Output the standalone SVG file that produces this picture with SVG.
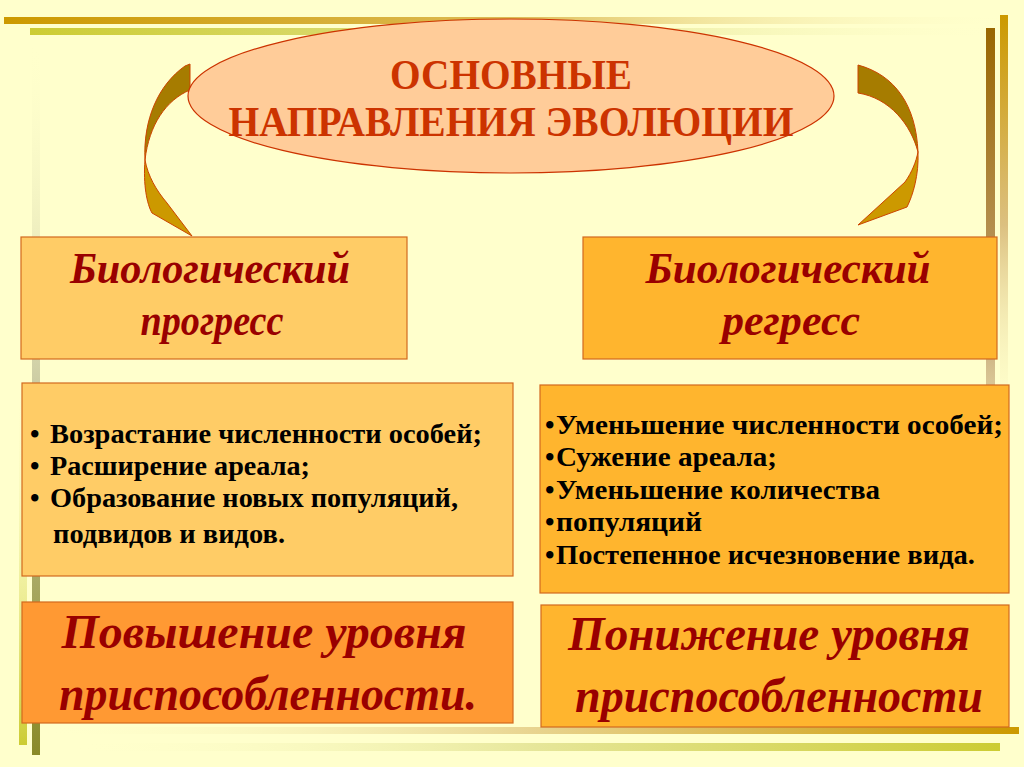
<svg xmlns="http://www.w3.org/2000/svg" width="1024" height="767" viewBox="0 0 1024 767">
<defs>
<linearGradient id="gTop1" x1="0" y1="0" x2="1" y2="0"><stop offset="0" stop-color="#CC9900"/><stop offset="0.5" stop-color="#DDBB55"/><stop offset="1" stop-color="#FFFFCC" stop-opacity="0"/></linearGradient>
<linearGradient id="gTop2" x1="0" y1="0" x2="1" y2="0"><stop offset="0" stop-color="#CCCC33"/><stop offset="0.5" stop-color="#E0E088"/><stop offset="1" stop-color="#FFFFCC" stop-opacity="0"/></linearGradient>
<linearGradient id="gBot1" x1="0" y1="0" x2="1" y2="0"><stop offset="0" stop-color="#FFFFCC" stop-opacity="0"/><stop offset="0.5" stop-color="#E8D490"/><stop offset="1" stop-color="#CC9900"/></linearGradient>
<linearGradient id="gBot2" x1="0" y1="0" x2="1" y2="0"><stop offset="0" stop-color="#FFFFCC" stop-opacity="0"/><stop offset="0.5" stop-color="#E6E699"/><stop offset="1" stop-color="#CCCC33"/></linearGradient>
<linearGradient id="gLeftA" x1="0" y1="0" x2="0" y2="1"><stop offset="0" stop-color="#FFFFCC" stop-opacity="0"/><stop offset="1" stop-color="#CCCC33"/></linearGradient>
<linearGradient id="gLeftB" x1="0" y1="0" x2="0" y2="1"><stop offset="0" stop-color="#FFFFCC" stop-opacity="0"/><stop offset="0.5" stop-color="#C8C8A0"/><stop offset="1" stop-color="#8A8A28"/></linearGradient>
<linearGradient id="gRightA" x1="0" y1="0" x2="0" y2="1"><stop offset="0" stop-color="#996600"/><stop offset="0.5" stop-color="#C0A070"/><stop offset="1" stop-color="#FFFFCC" stop-opacity="0"/></linearGradient>
<linearGradient id="gRightB" x1="0" y1="0" x2="0" y2="1"><stop offset="0" stop-color="#CC9900"/><stop offset="0.5" stop-color="#DCC080"/><stop offset="1" stop-color="#FFFFCC" stop-opacity="0"/></linearGradient>
<style>
.box{stroke:#D2691E;stroke-width:1.2}
.light{fill:#FFCC66}
.amber{fill:#FFB52E}
.orange{fill:#FF9933}
.title{font-family:"Liberation Serif",serif;font-weight:bold;font-size:42px;fill:#CC3300;text-anchor:middle}
.script{font-family:"Liberation Serif",serif;font-style:italic;font-weight:bold;fill:#990000}
.list{font-family:"Liberation Serif",serif;font-weight:bold;font-size:27px;fill:#000000}
.arrowDark{fill:#A67C00;stroke:#CC4400;stroke-width:1}
.arrowGold{fill:#CC9900;stroke:#CC4400;stroke-width:1}
</style>
</defs>
<rect x="0" y="0" width="1024" height="767" fill="#FFFFCC"/>
<g id="decor">
<rect x="4" y="17" width="1010" height="7" fill="url(#gTop1)"/>
<rect x="30" y="28" width="975" height="7" fill="url(#gTop2)"/>
<rect x="986" y="28" width="9" height="580" fill="url(#gRightA)"/>
<rect x="1000" y="15" width="8" height="420" fill="url(#gRightB)"/>
<rect x="19" y="380" width="8" height="365" fill="url(#gLeftA)"/>
<rect x="32" y="40" width="8" height="715" fill="url(#gLeftB)"/>
<rect x="40" y="727" width="979" height="7" fill="url(#gBot1)"/>
<rect x="72" y="743" width="928" height="8" fill="url(#gBot2)"/>
</g>
<g id="connectors">
<path class="arrowDark" d="M185,66 L190,64 L190,90 C166,100 149,125 145,160 C143,120 158,85 185,66 Z"/>
<path class="arrowGold" d="M145,160 C143,185 147,204 152,213 L192,236 L167,203 C156,190 148,176 145,160 Z"/>
<path class="arrowDark" d="M858,65 C895,75 916,105 918,152 C911,125 890,98 858,93 Z"/>
<path class="arrowGold" d="M918,152 C919,175 913,195 907,207 L858,225 L905,182 C912,172 916,162 918,152 Z"/>
</g>
<g id="node-title">
<ellipse cx="511" cy="96" rx="323" ry="77" fill="#FFCC99" stroke="#CC3300" stroke-width="1.2"/>
<text class="title" x="511" y="89" textLength="242" lengthAdjust="spacingAndGlyphs">ОСНОВНЫЕ</text>
<text class="title" x="511" y="136" textLength="565" lengthAdjust="spacingAndGlyphs">НАПРАВЛЕНИЯ ЭВОЛЮЦИИ</text>
</g>
<g id="node-progress">
<rect class="box light" x="21" y="237" width="386" height="122"/>
<text class="script" x="210" y="283" font-size="44" text-anchor="middle" textLength="280" lengthAdjust="spacingAndGlyphs">Биологический</text>
<text class="script" x="212" y="335" font-size="44" text-anchor="middle" textLength="143" lengthAdjust="spacingAndGlyphs">прогресс</text>
</g>
<g id="node-regress">
<rect class="box amber" x="583" y="237" width="414" height="122"/>
<text class="script" x="788" y="283" font-size="44" text-anchor="middle" textLength="285" lengthAdjust="spacingAndGlyphs">Биологический</text>
<text class="script" x="791" y="335" font-size="44" text-anchor="middle" textLength="138" lengthAdjust="spacingAndGlyphs">регресс</text>
</g>
<g id="node-progress-list">
<rect class="box light" x="22" y="383" width="491" height="193"/>
<text class="list" x="30" y="443">•</text>
<text class="list" x="50" y="443" textLength="432" lengthAdjust="spacingAndGlyphs">Возрастание численности особей;</text>
<text class="list" x="30" y="475">•</text>
<text class="list" x="50" y="475" textLength="260" lengthAdjust="spacingAndGlyphs">Расширение ареала;</text>
<text class="list" x="30" y="507">•</text>
<text class="list" x="50" y="507" textLength="408" lengthAdjust="spacingAndGlyphs">Образование новых популяций,</text>
<text class="list" x="53" y="543" textLength="232" lengthAdjust="spacingAndGlyphs">подвидов и видов.</text>
</g>
<g id="node-regress-list">
<rect class="box amber" x="540" y="385" width="469" height="208"/>
<text class="list" x="545" y="434">•</text>
<text class="list" x="556" y="434" textLength="447" lengthAdjust="spacingAndGlyphs">Уменьшение численности особей;</text>
<text class="list" x="545" y="466">•</text>
<text class="list" x="556" y="466" textLength="221" lengthAdjust="spacingAndGlyphs">Сужение ареала;</text>
<text class="list" x="545" y="499">•</text>
<text class="list" x="556" y="499" textLength="324" lengthAdjust="spacingAndGlyphs">Уменьшение количества</text>
<text class="list" x="545" y="531">•</text>
<text class="list" x="556" y="531" textLength="146" lengthAdjust="spacingAndGlyphs">популяций</text>
<text class="list" x="545" y="564">•</text>
<text class="list" x="556" y="564" textLength="419" lengthAdjust="spacingAndGlyphs">Постепенное исчезновение вида.</text>
</g>
<g id="node-progress-result">
<rect class="box orange" x="22" y="602" width="491" height="121"/>
<text class="script" x="264" y="648" font-size="48" text-anchor="middle" textLength="405" lengthAdjust="spacingAndGlyphs">Повышение уровня</text>
<text class="script" x="268" y="710" font-size="48" text-anchor="middle" textLength="418" lengthAdjust="spacingAndGlyphs">приспособленности.</text>
</g>
<g id="node-regress-result">
<rect class="box amber" x="541" y="605" width="468" height="122"/>
<text class="script" x="769" y="650" font-size="48" text-anchor="middle" textLength="402" lengthAdjust="spacingAndGlyphs">Понижение уровня</text>
<text class="script" x="779" y="712" font-size="48" text-anchor="middle" textLength="408" lengthAdjust="spacingAndGlyphs">приспособленности</text>
</g>
</svg>
